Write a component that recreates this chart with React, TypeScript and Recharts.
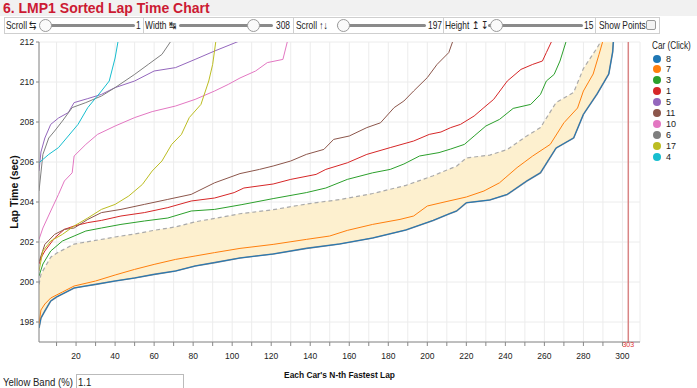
import { Area, CartesianGrid, ComposedChart, Line, ReferenceLine, XAxis, YAxis } from 'recharts'

// sorted lap times per car: [n-th fastest lap, seconds]
const car8: [number, number][] = [
  [1, 197.7], [2, 198.2], [4, 198.55], [7, 199.05], [10, 199.25], [13, 199.4], [19, 199.7], [25, 199.8],
  [30, 199.88], [40, 200.05], [50, 200.2], [60, 200.38], [71, 200.55], [81, 200.8], [91, 200.97],
  [104, 201.2], [121, 201.4], [138, 201.68], [155, 201.9], [172, 202.2], [189, 202.6], [203, 203.08],
  [211, 203.4], [215, 203.55], [220, 203.96], [232, 204.1], [241, 204.38], [251, 205.05], [258, 205.46],
  [266, 206.7], [275, 207.2], [280, 208.38], [287, 209.4], [293, 210.4], [295, 211.5], [296, 213],
]
const car7: [number, number][] = [
  [1, 197.9], [2, 198.6], [4, 198.9], [7, 199.2], [13, 199.5], [19, 199.8], [30, 200.05], [40, 200.35],
  [50, 200.63], [60, 200.88], [71, 201.13], [81, 201.3], [91, 201.47], [104, 201.68], [121, 201.88],
  [138, 202.13], [150, 202.3], [159, 202.58], [172, 202.88], [186, 203.13], [193, 203.3], [200, 203.8],
  [207, 203.96], [220, 204.25], [229, 204.55], [237, 204.96], [246, 205.72], [254, 206.3], [263, 206.88],
  [270, 207.96], [277, 208.7], [280, 209.55], [285, 210.4], [288, 211.38], [291, 212.4],
]
const car3: [number, number][] = [
  [1, 200.3], [3, 200.9], [7, 201.55], [13, 202.05], [19, 202.3], [25, 202.55], [33, 202.7], [43, 202.88],
  [55, 203.05], [67, 203.2], [79, 203.55], [91, 203.63], [105, 203.87], [121, 204.17], [138, 204.47],
  [148, 204.7], [159, 205.13], [172, 205.46], [181, 205.63], [188, 205.9], [196, 206.3], [206, 206.47],
  [212, 206.65], [219, 206.88], [224, 207.3], [230, 207.8], [237, 208.13], [244, 208.68], [253, 208.88],
  [258, 209.38], [261, 210.05], [265, 210.38], [268, 211.05], [272, 212.3],
]
const car1: [number, number][] = [
  [1, 200.9], [2, 201.2], [4, 201.55], [9, 202.2], [14, 202.63], [19, 202.8], [26, 202.97], [33, 203.08],
  [43, 203.3], [55, 203.47], [67, 203.72], [79, 204.05], [91, 204.2], [101, 204.47], [106, 204.7],
  [121, 204.9], [130, 205.13], [143, 205.38], [148, 205.63], [159, 205.96], [169, 206.38], [181, 206.72],
  [193, 207.05], [201, 207.38], [207, 207.5], [212, 207.72], [217, 207.88], [224, 208.3], [229, 208.72],
  [234, 209.13], [241, 210.05], [248, 210.63], [254, 210.88], [259, 211.05], [261, 211.47], [265, 212.3],
]
const car5: [number, number][] = [
  [1, 205.55], [2, 206.5], [4, 207.2], [7, 207.88], [11, 208.2], [16, 208.47], [19, 208.97], [26, 209.17],
  [33, 209.38], [40, 209.72], [50, 210.05], [60, 210.55], [71, 210.72], [81, 211.13], [91, 211.55], [105, 212.1],
]
const car11: [number, number][] = [
  [1, 201.0], [2, 201.3], [4, 201.88], [9, 202.38], [14, 202.63], [19, 202.7], [26, 203.13], [33, 203.47],
  [43, 203.63], [55, 203.88], [67, 204.13], [79, 204.38], [91, 204.96], [104, 205.42], [114, 205.63],
  [121, 205.8], [130, 206.05], [138, 206.38], [147, 206.63], [152, 207.13], [160, 207.3], [169, 207.72],
  [176, 207.96], [183, 208.72], [188, 209.05], [193, 209.55], [200, 210.22], [205, 210.88], [211, 211.47],
  [214, 212.3],
]
const car10: [number, number][] = [
  [1, 202.13], [3, 202.7], [7, 203.55], [11, 204.38], [14, 205.05], [18, 205.46], [19, 206.3], [25, 206.88],
  [31, 207.38], [40, 207.8], [50, 208.22], [59, 208.52], [71, 208.8], [81, 209.13], [91, 209.55], [98, 209.88],
  [104, 210.2], [112, 210.55], [118, 210.97], [126, 211.13], [129, 212.3],
]
const car6: [number, number][] = [
  [1, 204.55], [3, 206.38], [6, 207.2], [9, 207.55], [13, 208.05], [18, 208.72], [25, 208.97], [33, 209.3],
  [40, 209.72], [50, 210.38], [57, 210.88], [64, 211.38], [69, 212.1],
]
const car17: [number, number][] = [
  [1, 200.55], [3, 201.55], [7, 202.05], [13, 202.38], [19, 202.8], [26, 203.2], [33, 203.63], [40, 203.88],
  [47, 204.3], [54, 204.88], [59, 205.55], [64, 206.05], [69, 206.88], [74, 207.38], [78, 208.22], [84, 208.88],
  [88, 210.05], [90, 210.88], [92, 212.3],
]
const car4: [number, number][] = [
  [1, 205.96], [6, 206.38], [11, 206.72], [16, 207.3], [21, 207.88], [26, 208.72], [33, 209.55], [37, 210.05],
  [40, 211.2], [42, 212.3],
]

const cars = ['8', '7', '3', '1', '5', '11', '10', '6', '17', '4']
const carColors = ['#1f77b4', '#ff7f0e', '#2ca02c', '#d62728', '#9467bd', '#8c564b', '#e377c2', '#7f7f7f', '#bcbd22', '#17becf']
const carLaps = [car8, car7, car3, car1, car5, car11, car10, car6, car17, car4]

const xTicks = [10, 20, 30, 40, 50, 60, 70, 80, 90, 100, 110, 120, 130, 140, 150, 160, 170, 180, 190, 200,
  210, 220, 230, 240, 250, 260, 270, 280, 290, 300]
const yTicks = [198, 200, 202, 204, 206, 208, 210, 212]
const BAND_PCT = 1.1
const MAX_LAP = 303

const toRows = (pts: [number, number][]) => pts.map(([lap, v]) => ({ lap, v }))
const bandRows = car8.map(([lap, v]) => {
  const hi = +(v * (1 + BAND_PCT / 100)).toFixed(3)
  return { lap, lo: v, hi, band: [v, hi] }
})

const font = '"Liberation Sans", Arial, sans-serif'

function Slider({ left, width, thumb }: { left: number; width: number; thumb: number }) {
  return (
    <>
      <div style={{ position: 'absolute', left, top: 24, width, height: 3, background: '#8a8a8a', borderRadius: 2 }} />
      <div
        style={{
          position: 'absolute', left: thumb - 6, top: 19, width: 11, height: 11, borderRadius: '50%',
          background: '#fafafa', border: '1px solid #9a9a9a',
        }}
      />
    </>
  )
}

// narrow label, the page text is a bit condensed
const txt = (left: number, s: string, top = 20, size = 10.5, sx = 0.8) => (
  <span
    style={{
      position: 'absolute', left, top, fontSize: size, color: '#222', whiteSpace: 'nowrap',
      display: 'inline-block', transform: `scaleX(${sx})`, transformOrigin: 'left top', lineHeight: 1,
    }}
  >
    {s}
  </span>
)
const sep = (left: number) => (
  <div style={{ position: 'absolute', left, top: 17, width: 1, height: 17, background: '#cfcfcf' }} />
)

export default function App() {
  return (
    <div style={{ position: 'relative', width: 697, height: 388, overflow: 'hidden', fontFamily: font, background: '#fff' }}>
      <style>{'body{margin:0}'}</style>
      <ComposedChart
        width={697}
        height={388}
        margin={{ top: 42, right: 57, bottom: 10, left: 0 }}
        style={{ position: 'absolute', left: 0, top: 0, fontFamily: font }}
      >
        <CartesianGrid stroke="#ececec" />
        <XAxis
          type="number"
          dataKey="lap"
          domain={[1, 309]}
          allowDataOverflow
          ticks={xTicks}
          interval={0}
          height={36}
          tickSize={4}
          tickMargin={7}
          stroke="#888"
          tick={{ fontSize: 8.5, fill: '#222' }}
          tickFormatter={(v: number) => (v % 20 === 0 ? String(v) : '')}
          label={{ value: "Each Car's N-th Fastest Lap", position: 'insideBottom', offset: 0, fontSize: 8.4, fontWeight: 'bold', fill: '#111' }}
        />
        <YAxis
          type="number"
          domain={[197, 212]}
          allowDataOverflow
          ticks={yTicks}
          interval={0}
          width={39}
          tickSize={3}
          tickMargin={2}
          stroke="#888"
          tick={{ fontSize: 8.5, fill: '#222' }}
          label={{
            value: 'Lap Time (sec)', angle: -90, position: 'insideLeft', offset: 14,
            fontSize: 10.5, fontWeight: 'bold', fill: '#111', style: { textAnchor: 'middle' },
          }}
        />
        <Area
          data={bandRows}
          dataKey="band"
          type="linear"
          stroke="none"
          fill="#fdf0cf"
          fillOpacity={1}
          isAnimationActive={false}
        />
        <Line data={bandRows} dataKey="hi" type="linear" stroke="#aaa" strokeWidth={1.2} strokeDasharray="4 3" dot={false} isAnimationActive={false} />
        <Line data={bandRows} dataKey="lo" type="linear" stroke="#8a8f96" strokeWidth={1.6} dot={false} isAnimationActive={false} />
        {cars.map((c, i) => (
          <Line
            key={c}
            data={toRows(carLaps[i])}
            dataKey="v"
            name={c}
            type="linear"
            stroke={carColors[i]}
            strokeWidth={1}
            dot={false}
            isAnimationActive={false}
          />
        ))}
        <ReferenceLine
          x={MAX_LAP}
          stroke="#d98585"
          strokeWidth={1.5}
          label={{ value: String(MAX_LAP), position: 'bottom', offset: 0, fontSize: 7, fill: '#d33' }}
        />
      </ComposedChart>

      {/* title bar */}
      <div style={{ position: 'absolute', left: 0, top: 0, width: 697, height: 16, background: '#f1f1f1' }} />
      <div style={{ position: 'absolute', left: 3, top: 0, fontSize: 14, fontWeight: 'bold', color: '#cc1a33', whiteSpace: 'nowrap' }}>
        6. LMP1 Sorted Lap Time Chart
      </div>

      {/* controls row */}
      <div style={{ position: 'absolute', left: 4, top: 17, width: 654, height: 15, border: '1px solid #cfcfcf' }} />
      {txt(6, 'Scroll ⇆')}
      <Slider left={40} width={95} thumb={45} />
      {txt(136, '1')}
      {sep(143)}
      {txt(145, 'Width ↹')}
      <Slider left={179} width={94} thumb={253} />
      {txt(276, '308')}
      {sep(293)}
      {txt(296, 'Scroll ↑↓')}
      <Slider left={337} width={89} thumb={343} />
      {txt(428, '197')}
      {sep(443)}
      {txt(445, 'Height ↥ ↧')}
      <Slider left={488} width={95} thumb={496} />
      {txt(584, '15')}
      {sep(595)}
      {txt(599, 'Show Points')}
      <div style={{ position: 'absolute', left: 646, top: 20, width: 8, height: 8, border: '1px solid #999', borderRadius: 2, background: '#f4f4f4' }} />

      {/* legend */}
      {txt(652, 'Car (Click)', 41, 10, 0.82)}
      {cars.map((c, i) => (
        <div key={c} style={{ position: 'absolute', left: 653, top: 54 + i * 10.9, height: 9, display: 'flex', alignItems: 'center' }}>
          <div style={{ width: 8, height: 8, borderRadius: '50%', background: carColors[i] }} />
          <span style={{ marginLeft: 5, fontSize: 9, color: '#222' }}>{c}</span>
        </div>
      ))}

      {/* band input */}
      {txt(3, 'Yellow Band (%)', 377, 11, 0.87)}
      <div style={{ position: 'absolute', left: 76, top: 374, width: 108, height: 16, border: '1px solid #bbb', boxSizing: 'border-box' }} />
      {txt(78, '1.1', 377, 11, 0.87)}
    </div>
  )
}
